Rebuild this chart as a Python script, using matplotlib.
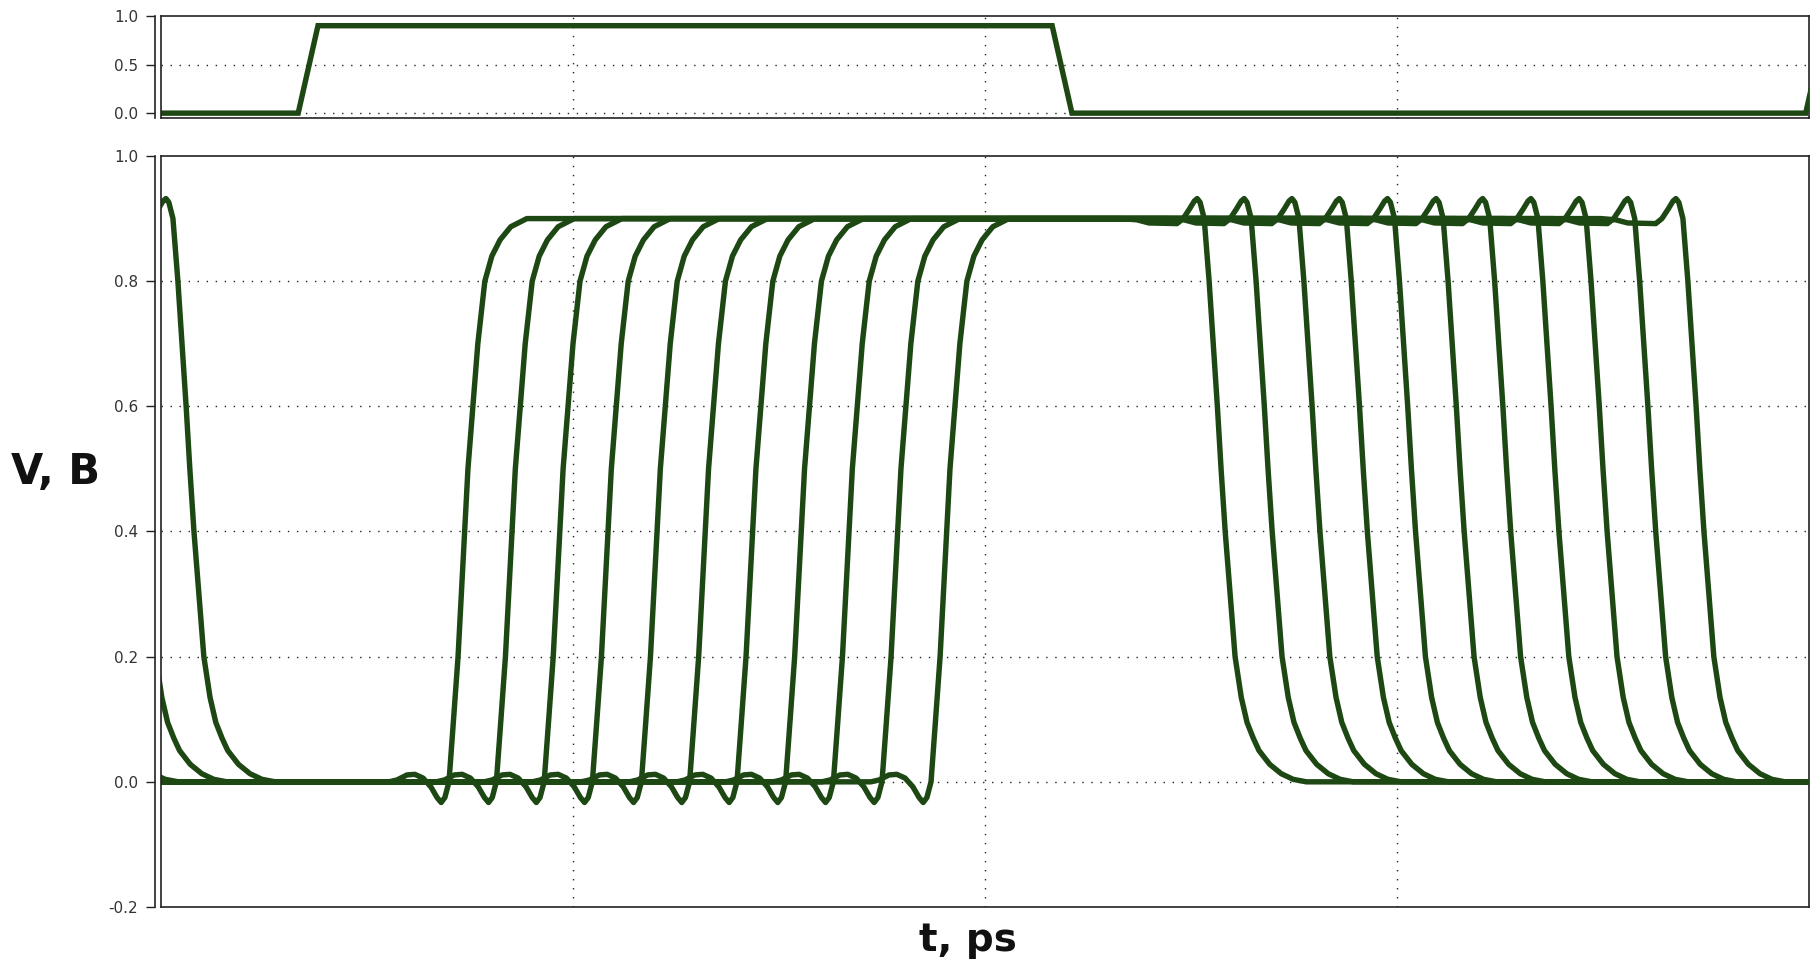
import numpy as np
import matplotlib
matplotlib.use("Agg")
import matplotlib.pyplot as plt
from matplotlib.lines import Line2D

# ---------------- data (t in ps, V in volts) ----------------
# input pulse (top panel)
pulse_t = [0.0, 33.3, 38.1, 216.3, 221.1, 399.2, 404.0]
pulse_v = [0.0, 0.0, 0.9, 0.9, 0.0, 0.0, 0.9]

# rising-edge instants (0-level crossing) of each output curve
rise_t = [69.9, 81.4, 93.0, 104.7, 116.6, 128.3, 139.8, 151.6, 163.2, 175.0, 186.9]
# falling-edge instants (overshoot peak) of each output curve
fall_t = [251.5, 262.9, 274.5, 286.0, 297.7, 309.5, 320.8, 332.5, 344.2, 356.0, 367.7]
# repetition period of the input (rise to rise in top panel)
period_ps = 366.5

# rising edge shape: offset from crossing (ps), V
rise_dt = [-14.6, -12.6, -10.2, -8.3, -6.3, -4.4, -2.9, -1.9, -1.0, 0.0,
           1.0, 2.2, 3.4, 4.6, 5.8, 7.0, 8.7, 10.4, 12.4, 15.0, 18.9]
rise_v = [0.0, 0.003, 0.011, 0.012, 0.006, -0.008, -0.025, -0.033, -0.025, 0.0,
          0.09, 0.2, 0.35, 0.5, 0.6, 0.7, 0.8, 0.84, 0.866, 0.887, 0.9]

# falling edge shape: offset from overshoot peak (ps), V
fall_dt = [-18.2, -14.6, -11.7, -4.9, -3.4, -1.9, -0.7, 0.0, 0.7, 1.7, 2.9, 3.9,
           4.9, 5.8, 6.8, 8.0, 9.2, 10.7, 12.1, 13.6, 15.0, 17.6, 20.4, 23.3, 26.5]
fall_v = [0.9, 0.898, 0.893, 0.892, 0.9, 0.915, 0.928, 0.932, 0.926, 0.9, 0.8, 0.7,
          0.6, 0.5, 0.4, 0.3, 0.2, 0.135, 0.095, 0.07, 0.05, 0.028, 0.013, 0.004, 0.0]

x_grid = [100, 200, 300]
top_yticks = [0.0, 0.5, 1.0]
main_yticks = [-0.2, 0.0, 0.2, 0.4, 0.6, 0.8, 1.0]

# ---------------- styling ----------------
line_color = "#1d4713"
lw = 3.9
W, H = 1812, 959
fig = plt.figure(figsize=(W / 100, H / 100), dpi=100)
fig.patch.set_facecolor("white")

left_px, right_px = 161, 1809
ax_top = fig.add_axes([left_px / W, 1 - 118 / H, (right_px - left_px) / W, 102 / H])
ax = fig.add_axes([left_px / W, 1 - 907 / H, (right_px - left_px) / W, 751 / H])

grid_kw = dict(color="#222222", linewidth=1.0, linestyle=(0, (1, 5.5)), zorder=1)


def style(a, yticks, ylim):
    a.set_xlim(0, 400)
    a.set_ylim(*ylim)
    a.set_yticks(yticks)
    a.set_yticklabels([f"{v:.1f}" for v in yticks])
    a.set_xticks([])
    for v in yticks:
        if ylim[0] < v < ylim[1]:
            a.axhline(v, **grid_kw)
    for xv in x_grid:
        a.axvline(xv, **grid_kw)
    for s in ["top", "right", "bottom"]:
        a.spines[s].set_color("#222222")
        a.spines[s].set_linewidth(1.2)
    a.spines["left"].set_position(("outward", 4))
    a.spines["left"].set_color("#222222")
    a.spines["left"].set_linewidth(1.2)
    a.add_line(Line2D([0, 0], [0, 1], transform=a.transAxes, color="#222222",
                      linewidth=1.2, clip_on=False, zorder=5))
    a.tick_params(axis="y", direction="out", length=6.5, width=1.0,
                  color="#222222", labelsize=11, labelcolor="#333333", pad=6)


style(ax_top, top_yticks, (-0.05, 1.0))
style(ax, main_yticks, (-0.2, 1.0))

# top panel pulse
ax_top.plot(pulse_t, pulse_v, color=line_color, linewidth=lw, zorder=3,
            solid_joinstyle="miter")

# output curves: previous fall, rise, fall
for r, f in zip(rise_t, fall_t):
    f_prev = f - period_ps
    t = [-400.0]
    v = [0.9]
    t += [f_prev + d for d in fall_dt]
    v += fall_v
    t += [r + d for d in rise_dt]
    v += rise_v
    t += [f + d for d in fall_dt]
    v += fall_v
    t += [420.0]
    v += [0.0]
    ax.plot(t, v, color=line_color, linewidth=lw, zorder=3)

fig.text(11 / W, 1 - 472 / H, "V, B", ha="left", va="center",
         fontsize=30, fontweight="bold", color="#111111")
fig.text(968 / W, 1 - 940 / H, "t, ps", ha="center", va="center",
         fontsize=28, fontweight="bold", color="#111111")

fig.savefig("out.png", dpi=100, facecolor="white")
